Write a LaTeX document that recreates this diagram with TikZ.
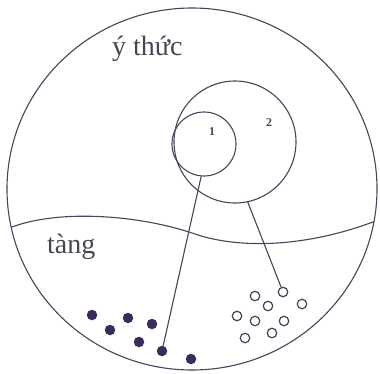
\documentclass[tikz,border=0pt]{standalone}
\usepackage{fontspec}
\setmainfont{Liberation Serif}
\definecolor{inkline}{HTML}{48435A}
\definecolor{inkdot}{HTML}{3B2A5C}
\definecolor{inktext}{HTML}{4A4452}

\begin{document}
\begin{tikzpicture}[x=1pt,y=1pt]
\tikzset{
  ring/.style={circle,draw=inkline,line width=1.1pt,inner sep=0pt},
  seed/.style={circle,fill=inkdot,inner sep=0pt,minimum size=10.5pt},
  hollow/.style={circle,draw=inkline,line width=1.2pt,fill=white,inner sep=0pt,minimum size=9.5pt},
  link/.style={draw=inkline,line width=1.1pt,line cap=round},
  bigword/.style={text=inktext,font=\fontsize{28}{30}\selectfont,inner sep=0pt,anchor=base west},
  smallword/.style={text=inktext,font=\fontsize{12}{13}\selectfont\bfseries,inner sep=0pt}
}
\useasboundingbox (0,0) rectangle (380,373);
% outer mind
\draw[inkline,line width=1.1pt] (192,184) ellipse [x radius=185,y radius=181];
\begin{scope}
\clip (192,184) ellipse [x radius=185,y radius=181];
\draw[link] (-10,137.8) -- (12,146) .. controls (60,164) and (140,158) .. (195,139)
  .. controls (235,125.2) and (300,124) .. (373,151) -- (390,157.3);
\end{scope}
% labels
\node[bigword] (t_ythuc) at (112,317) {ý thức};
\node[bigword] (t_tang) at (47,120) {tàng};
% circles in consciousness
\node[ring,minimum size=122pt] (n_c2) at (235,231) {};
\node[ring,minimum size=64pt] (n_c1) at (204,229) {};
\node[smallword] (t_one) at (212,241) {1};
\node[smallword] (t_two) at (269,250) {2};
% seeds in store
\node[seed] (n_d1) at (92,58) {};
\node[seed] (n_d2) at (110,43) {};
\node[seed] (n_d3) at (128,55) {};
\node[seed] (n_d4) at (152,49) {};
\node[seed] (n_d5) at (139,31) {};
\node[seed] (n_d6) at (162,22) {};
\node[seed] (n_d7) at (191,14) {};
\node[hollow] (n_o1) at (283,81) {};
\node[hollow] (n_o2) at (255,77) {};
\node[hollow] (n_o3) at (268,67) {};
\node[hollow] (n_o4) at (302,69) {};
\node[hollow] (n_o5) at (237,57) {};
\node[hollow] (n_o6) at (255,52) {};
\node[hollow] (n_o7) at (284,52) {};
\node[hollow] (n_o8) at (245,35) {};
\node[hollow] (n_o9) at (272,40) {};
% links down to the seeds
\draw[link] (n_c1.-95) -- (n_d6);
\draw[link] (n_c2.-78) -- (n_o1);
\end{tikzpicture}
\end{document}
